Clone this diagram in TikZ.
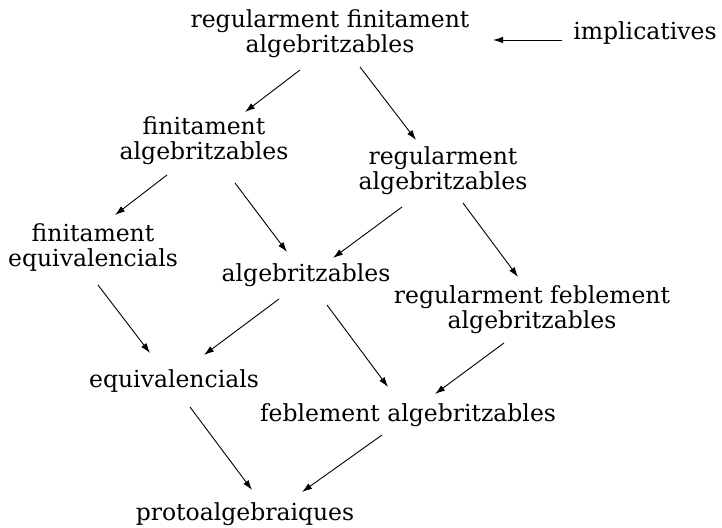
\documentclass[tikz,border=0pt]{standalone}
\usepackage{fontspec}
\setmainfont{DejaVu Serif}
\usetikzlibrary{arrows.meta}
\begin{document}
\begin{tikzpicture}[x=1pt,y=1pt,
  lbl/.style={inner sep=0pt, align=center, font=\fontsize{23.5}{25}\selectfont},
  arr/.style={line width=0.9pt, -{Latex[length=10pt,width=6.5pt]}}]
\useasboundingbox (0,0) rectangle (722,527);
\node[lbl] (A) at (330,493) {regularment finitament\\algebritzables};
\node[lbl] (B) at (645,494) {implicatives};
\node[lbl] (C) at (204,386.5) {finitament\\algebritzables};
\node[lbl] (D) at (443,356.5) {regularment\\algebritzables};
\node[lbl] (E) at (93,279.5) {finitament\\equivalencials};
\node[lbl] (F) at (306,252) {algebritzables};
\node[lbl] (G) at (532,217.5) {regularment feblement\\algebritzables};
\node[lbl] (H) at (174,146) {equivalencials};
\node[lbl] (I) at (408,112) {feblement algebritzables};
\node[lbl] (J) at (245,13) {protoalgebraiques};
\draw[arr] ([shift={(-30,-36)}]A.center) -- ([shift={(41,28.5)}]C.center);
\draw[arr] ([shift={(30,-33)}]A.center) -- ([shift={(-27,30.5)}]D.center);
\draw[arr] ([shift={(-37,-34.5)}]C.center) -- ([shift={(22,32.5)}]E.center);
\draw[arr] ([shift={(31,-42.5)}]C.center) -- ([shift={(-19,23)}]F.center);
\draw[arr] ([shift={(-41,-36.5)}]D.center) -- ([shift={(27,17)}]F.center);
\draw[arr] ([shift={(20,-32.5)}]D.center) -- ([shift={(-14,32.5)}]G.center);
\draw[arr] ([shift={(5,-37.5)}]E.center) -- ([shift={(-24,28)}]H.center);
\draw[arr] ([shift={(-27,-24)}]F.center) -- ([shift={(30,26)}]H.center);
\draw[arr] ([shift={(21,-30)}]F.center) -- ([shift={(-20,28)}]I.center);
\draw[arr] ([shift={(-28,-33.5)}]G.center) -- ([shift={(27,21)}]I.center);
\draw[arr] ([shift={(16,-26)}]H.center) -- ([shift={(7,24)}]J.center);
\draw[arr] ([shift={(-26,-20)}]I.center) -- ([shift={(57,22)}]J.center);
\draw[arr] ([shift={(-83,-7)}]B.center) -- ([shift={(163,-6)}]A.center);
\end{tikzpicture}
\end{document}
